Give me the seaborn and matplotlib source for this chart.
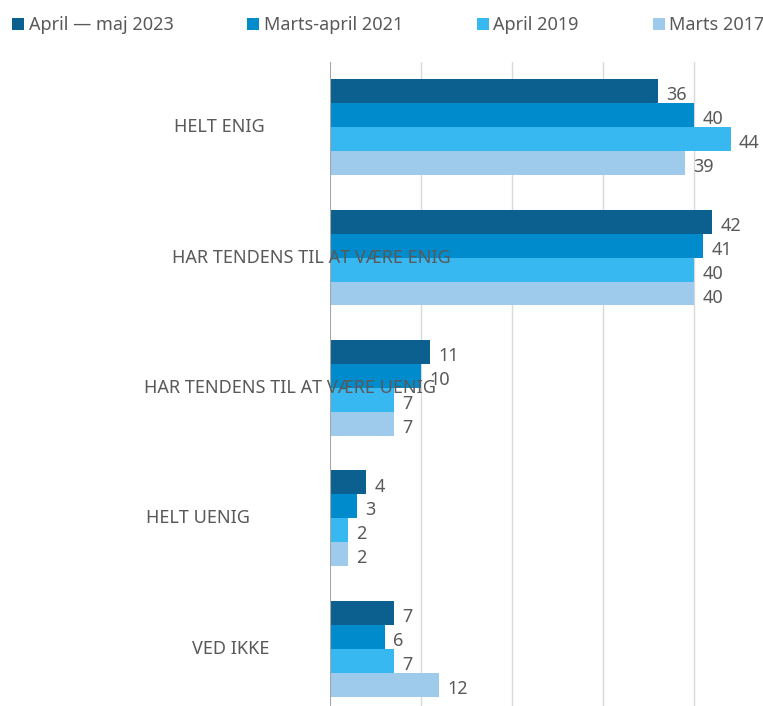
import pandas as pd
import matplotlib.pyplot as plt
import matplotlib.transforms as mtransforms
from matplotlib.patches import Patch
import seaborn as sns

# Data
categories = ['HELT ENIG', 'HAR TENDENS TIL AT VÆRE ENIG', 'HAR TENDENS TIL AT VÆRE UENIG',
              'HELT UENIG', 'VED IKKE']
series = ['April — maj 2023', 'Marts-april 2021', 'April 2019', 'Marts 2017']
values_2023 = [36, 42, 11, 4, 7]
values_2021 = [40, 41, 10, 3, 6]
values_2019 = [44, 40, 7, 2, 7]
values_2017 = [39, 40, 7, 2, 12]
colors = ['#0C6090', '#008CCC', '#38B8F0', '#9ECAEC']

# label x positions (figure pixels) as in the source layout
label_left_px = [174, 172, 144, 146, 192]

rows = []
for s, vals in zip(series, [values_2023, values_2021, values_2019, values_2017]):
    for c, v in zip(categories, vals):
        rows.append({'Kategori': c, 'Periode': s, 'Andel': v})
df = pd.DataFrame(rows)

sns.set_style('white')
plt.rcParams['font.family'] = ['Noto Sans', 'DejaVu Sans']
text_color = '#595959'
fs = 13

fig = plt.figure(figsize=(7.63, 7.06), dpi=100)
ax = fig.add_axes([330 / 763, 0.0, (758 - 330) / 763, (706 - 62) / 706])

sns.barplot(data=df, y='Kategori', x='Andel', hue='Periode', order=categories,
            hue_order=series, palette=colors, orient='h', width=0.735,
            linewidth=0, saturation=1, ax=ax, legend=False)

# value labels sit slightly below the bar centre in the source
for cont in ax.containers:
    for t in ax.bar_label(cont, padding=6, color=text_color, fontsize=fs):
        t.set_y(-3)

ax.set_xlim(0, 47)
ax.set_ylim(4.44, -0.5)
ax.set_xticks([10, 20, 30, 40])
ax.set_xticklabels([])
ax.set_yticks([])
ax.set_xlabel('')
ax.set_ylabel('')
ax.grid(axis='x', color='#D9D9D9', linewidth=1)
ax.set_axisbelow(True)
for sp in ax.spines.values():
    sp.set_visible(False)
ax.axvline(0, color='#A6A6A6', linewidth=1.5, zorder=5)

trans = mtransforms.blended_transform_factory(fig.transFigure, ax.transData)
for i, (c, px) in enumerate(zip(categories, label_left_px)):
    ax.text(px / 763, i, c, transform=trans, ha='left', va='center',
            color=text_color, fontsize=fs, zorder=10, clip_on=False)

handles = [Patch(facecolor=col, edgecolor='none') for col in colors]
fig.legend(handles, series, loc='upper left', bbox_to_anchor=(-0.005, 1.0), ncol=4,
           frameon=False, fontsize=fs, labelcolor=text_color, handlelength=0.65,
           handleheight=0.65, handletextpad=0.25, columnspacing=4.1)

fig.savefig('out.png', dpi=100)
